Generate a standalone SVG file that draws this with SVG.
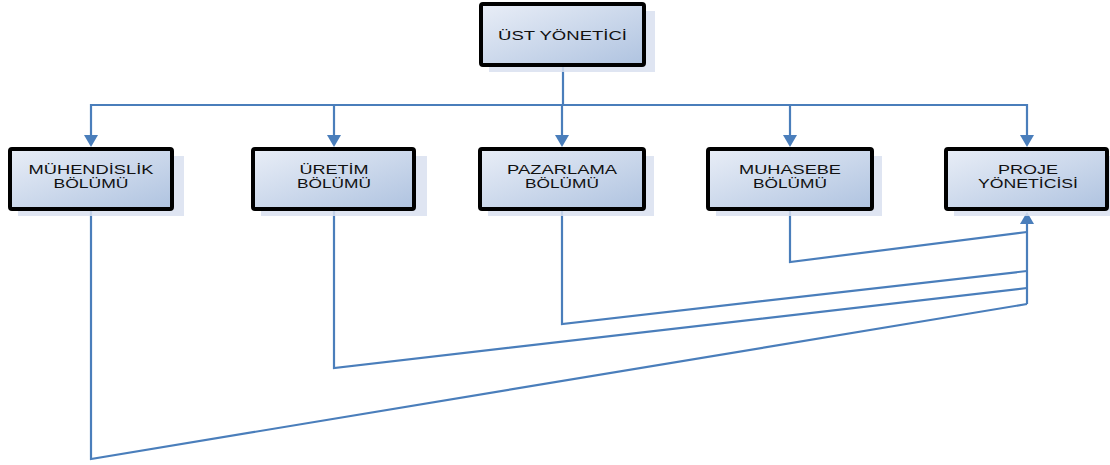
<svg xmlns="http://www.w3.org/2000/svg" width="1110" height="465" viewBox="0 0 1110 465">
  <defs>
    <linearGradient id="boxFill" x1="0" y1="0" x2="1" y2="1">
      <stop offset="0" stop-color="#e9eef7"/>
      <stop offset="1" stop-color="#afc3e0"/>
    </linearGradient>
  </defs>
  <style>
    .shadow { fill: #d9e1f0; opacity: 0.85; }
    .box { fill: url(#boxFill); stroke: #000; stroke-width: 4; }
    .label { font-family: "Liberation Sans", Arial, sans-serif; font-size: 13px; fill: #111; text-anchor: middle; }
    .link { fill: none; stroke: #4a7ebb; stroke-width: 2.2; stroke-linejoin: miter; }
    .head { fill: #4a7ebb; }
  </style>
  <rect width="1110" height="465" fill="#fff"/>

  <!-- connectors -->
  <g id="connectors">
    <line class="link" x1="563" y1="67" x2="563" y2="105"/>
    <polyline class="link" points="91,136 91,105 1027,105 1027,136"/>
    <line class="link" x1="334" y1="105" x2="334" y2="136"/>
    <line class="link" x1="562" y1="105" x2="562" y2="136"/>
    <line class="link" x1="790" y1="105" x2="790" y2="136"/>
    <polygon class="head" points="84,135 98,135 91,147"/>
    <polygon class="head" points="327,135 341,135 334,147"/>
    <polygon class="head" points="555,135 569,135 562,147"/>
    <polygon class="head" points="783,135 797,135 790,147"/>
    <polygon class="head" points="1020,135 1034,135 1027,147"/>
    <polygon class="head" points="1020,224 1034,224 1027,212"/>
    <line class="link" x1="1027" y1="304" x2="1027" y2="223"/>
    <polyline class="link" points="790,211 790,262 1027,232"/>
    <polyline class="link" points="562,211 562,324 1027,271"/>
    <polyline class="link" points="334,211 334,368 1027,288"/>
    <polyline class="link" points="91,211 91,459 1027,304"/>
  </g>

  <!-- top manager -->
  <g id="node-ust-yonetici">
    <rect class="shadow" x="489" y="11" width="166" height="61"/>
    <rect class="box" x="481" y="4" width="163" height="61" rx="2"/>
    <text class="label" x="562.5" y="40" textLength="129" lengthAdjust="spacingAndGlyphs">ÜST YÖNETİCİ</text>
  </g>

  <g id="node-muhendislik">
    <rect class="shadow" x="18" y="156" width="166" height="60"/>
    <rect class="box" x="10" y="149" width="162" height="60" rx="2"/>
    <text class="label" x="91" y="174" textLength="125" lengthAdjust="spacingAndGlyphs">MÜHENDİSLİK</text>
    <text class="label" x="91" y="188" textLength="75" lengthAdjust="spacingAndGlyphs">BÖLÜMÜ</text>
  </g>

  <g id="node-uretim">
    <rect class="shadow" x="261" y="156" width="166" height="60"/>
    <rect class="box" x="253" y="149" width="161" height="60" rx="2"/>
    <text class="label" x="334" y="174" textLength="69" lengthAdjust="spacingAndGlyphs">ÜRETİM</text>
    <text class="label" x="334" y="188" textLength="74" lengthAdjust="spacingAndGlyphs">BÖLÜMÜ</text>
  </g>

  <g id="node-pazarlama">
    <rect class="shadow" x="488" y="156" width="166" height="60"/>
    <rect class="box" x="480" y="149" width="164" height="60" rx="2"/>
    <text class="label" x="562" y="174" textLength="110" lengthAdjust="spacingAndGlyphs">PAZARLAMA</text>
    <text class="label" x="562" y="188" textLength="74" lengthAdjust="spacingAndGlyphs">BÖLÜMÜ</text>
  </g>

  <g id="node-muhasebe">
    <rect class="shadow" x="716" y="156" width="166" height="60"/>
    <rect class="box" x="708" y="149" width="164" height="60" rx="2"/>
    <text class="label" x="790" y="174" textLength="102" lengthAdjust="spacingAndGlyphs">MUHASEBE</text>
    <text class="label" x="790" y="188" textLength="74" lengthAdjust="spacingAndGlyphs">BÖLÜMÜ</text>
  </g>

  <g id="node-proje">
    <rect class="shadow" x="954" y="156" width="156" height="60"/>
    <rect class="box" x="946" y="149" width="161" height="60" rx="2"/>
    <text class="label" x="1028" y="174" textLength="60" lengthAdjust="spacingAndGlyphs">PROJE</text>
    <text class="label" x="1028" y="188" textLength="100" lengthAdjust="spacingAndGlyphs">YÖNETİCİSİ</text>
  </g>
</svg>
